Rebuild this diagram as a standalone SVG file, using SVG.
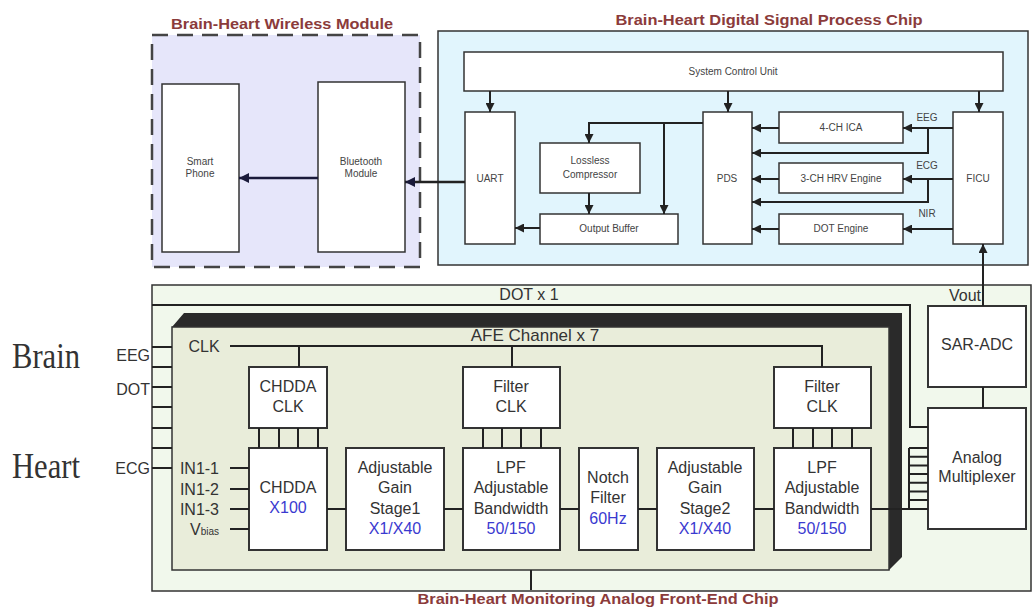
<svg xmlns="http://www.w3.org/2000/svg" width="1035" height="609" viewBox="0 0 1035 609">
<defs>
<style>
.box{fill:#fff;stroke:#333;stroke-width:1.5}
.abox{fill:#fff;stroke:#333;stroke-width:2}
.t{font-family:"Liberation Sans",Arial,sans-serif;fill:#444;font-size:10px;text-anchor:middle}
.at{font-family:"Liberation Sans",Arial,sans-serif;fill:#333;font-size:16px;text-anchor:middle}
.blue{fill:#3a3ad0}
.title{font-family:"Liberation Sans",Arial,sans-serif;font-weight:bold;fill:#8b3b3b;font-size:15px;text-anchor:middle}
.ln{stroke:#222;stroke-width:2;fill:none}
.arr{stroke:#222;stroke-width:2;fill:none;marker-end:url(#ah)}
.serif{font-family:"Liberation Serif","Times New Roman",serif;fill:#333;font-size:36px}
</style>
<marker id="ah" viewBox="0 0 10 10" refX="10" refY="5" markerWidth="9" markerHeight="9" markerUnits="userSpaceOnUse" orient="auto">
<path d="M0,0 L10,5 L0,10 z" fill="#222"/>
</marker>
<marker id="ahn" viewBox="0 0 10 10" refX="10" refY="5" markerWidth="10" markerHeight="10" markerUnits="userSpaceOnUse" orient="auto">
<path d="M0,0 L10,5 L0,10 z" fill="#1a1a3a"/>
</marker>
</defs>

<!-- Wireless module -->
<g id="wireless-module">
<rect x="152" y="35" width="268" height="232" fill="#e6e6fa" stroke="#444" stroke-width="2.5" stroke-dasharray="16,9"/>
<text class="title" x="282" y="29" textLength="222" lengthAdjust="spacingAndGlyphs">Brain-Heart Wireless Module</text>
</g>
<g id="smart-phone">
<rect class="box" x="162" y="84" width="77" height="168"/>
<text class="t" x="200" y="165">Smart</text>
<text class="t" x="200" y="177">Phone</text>
</g>
<g id="bluetooth-module">
<rect class="box" x="318" y="82" width="87" height="170"/>
<text class="t" x="361" y="165">Bluetooth</text>
<text class="t" x="361" y="177">Module</text>
</g>

<!-- DSP chip -->
<g id="dsp-chip">
<rect x="438" y="31" width="590" height="234" fill="#e1f5fd" stroke="#333" stroke-width="1.5"/>
<text class="title" x="769" y="25" textLength="307" lengthAdjust="spacingAndGlyphs">Brain-Heart Digital Signal Process Chip</text>
</g>
<g id="system-control-unit">
<rect class="box" x="464" y="52" width="539" height="39"/>
<text class="t" x="733" y="75">System Control Unit</text>
</g>
<g id="uart">
<rect class="box" x="465" y="112" width="50" height="132"/>
<text class="t" x="490" y="182">UART</text>
</g>
<g id="lossless-compressor">
<rect class="box" x="540" y="143" width="100" height="50"/>
<text class="t" x="590" y="164">Lossless</text>
<text class="t" x="590" y="178">Compressor</text>
</g>
<g id="output-buffer">
<rect class="box" x="540" y="214" width="138" height="30"/>
<text class="t" x="609" y="232">Output Buffer</text>
</g>
<g id="pds">
<rect class="box" x="703" y="112" width="49" height="132"/>
<text class="t" x="727" y="182">PDS</text>
</g>
<g id="ica">
<rect class="box" x="779" y="112" width="124" height="31"/>
<text class="t" x="841" y="131">4-CH ICA</text>
</g>
<g id="hrv-engine">
<rect class="box" x="779" y="163" width="124" height="30"/>
<text class="t" x="841" y="182">3-CH HRV Engine</text>
</g>
<g id="dot-engine">
<rect class="box" x="779" y="214" width="124" height="30"/>
<text class="t" x="841" y="232">DOT Engine</text>
</g>
<g id="ficu">
<rect class="box" x="953" y="112" width="50" height="132"/>
<text class="t" x="978" y="182">FICU</text>
</g>
<g id="dsp-labels">
<text class="t" x="927" y="121">EEG</text>
<text class="t" x="927" y="169">ECG</text>
<text class="t" x="927" y="217">NIR</text>
</g>

<!-- AFE chip -->
<g id="afe-chip">
<rect x="152" y="285" width="879" height="306" fill="#f1f8ec" stroke="#333" stroke-width="1.5"/>
<text class="at" x="529" y="300">DOT x 1</text>
<text class="title" x="598" y="604" textLength="361" lengthAdjust="spacingAndGlyphs">Brain-Heart Monitoring Analog Front-End Chip</text>
</g>
<g id="afe-channel">
<polygon points="172,327 184,313 902,313 902,557 889,570 889,327" fill="#2a2a2a"/>
<rect x="172" y="327" width="717" height="243" fill="#e9edda" stroke="#333" stroke-width="1.5"/>
<text class="at" x="535" y="341" style="font-size:17px">AFE Channel x 7</text>
<text class="at" x="204" y="352" style="text-anchor:middle">CLK</text>
<text class="at" x="219" y="474" style="text-anchor:end">IN1-1</text>
<text class="at" x="219" y="495" style="text-anchor:end">IN1-2</text>
<text class="at" x="219" y="515" style="text-anchor:end">IN1-3</text>
<text class="at" x="219" y="535" style="text-anchor:end">V<tspan style="font-size:10px">bias</tspan></text>
</g>
<g id="chdda-clk">
<rect class="abox" x="249" y="367" width="78" height="61"/>
<text class="at" x="288" y="392">CHDDA</text>
<text class="at" x="288" y="412">CLK</text>
</g>
<g id="filter-clk-1">
<rect class="abox" x="463" y="367" width="97" height="61"/>
<text class="at" x="511" y="392">Filter</text>
<text class="at" x="511" y="412">CLK</text>
</g>
<g id="filter-clk-2">
<rect class="abox" x="774" y="367" width="97" height="61"/>
<text class="at" x="822" y="392">Filter</text>
<text class="at" x="822" y="412">CLK</text>
</g>
<g id="chdda">
<rect class="abox" x="249" y="448" width="78" height="102"/>
<text class="at" x="288" y="493">CHDDA</text>
<text class="at blue" x="288" y="513">X100</text>
</g>
<g id="gain-stage-1">
<rect class="abox" x="346" y="448" width="98" height="102"/>
<text class="at" x="395" y="473">Adjustable</text>
<text class="at" x="395" y="493">Gain</text>
<text class="at" x="395" y="514">Stage1</text>
<text class="at blue" x="395" y="534">X1/X40</text>
</g>
<g id="lpf-1">
<rect class="abox" x="463" y="448" width="97" height="102"/>
<text class="at" x="511" y="473">LPF</text>
<text class="at" x="511" y="493">Adjustable</text>
<text class="at" x="511" y="514">Bandwidth</text>
<text class="at blue" x="511" y="534">50/150</text>
</g>
<g id="notch-filter">
<rect class="abox" x="579" y="448" width="59" height="102"/>
<text class="at" x="608" y="483">Notch</text>
<text class="at" x="608" y="503">Filter</text>
<text class="at blue" x="608" y="524">60Hz</text>
</g>
<g id="gain-stage-2">
<rect class="abox" x="657" y="448" width="97" height="102"/>
<text class="at" x="705" y="473">Adjustable</text>
<text class="at" x="705" y="493">Gain</text>
<text class="at" x="705" y="514">Stage2</text>
<text class="at blue" x="705" y="534">X1/X40</text>
</g>
<g id="lpf-2">
<rect class="abox" x="774" y="448" width="97" height="102"/>
<text class="at" x="822" y="473">LPF</text>
<text class="at" x="822" y="493">Adjustable</text>
<text class="at" x="822" y="514">Bandwidth</text>
<text class="at blue" x="822" y="534">50/150</text>
</g>
<g id="sar-adc">
<rect class="abox" x="928" y="306" width="98" height="81"/>
<text class="at" x="977" y="350">SAR-ADC</text>
</g>
<g id="analog-multiplexer">
<rect class="abox" x="928" y="408" width="98" height="121"/>
<text class="at" x="977" y="463">Analog</text>
<text class="at" x="977" y="482">Multiplexer</text>
</g>
<g id="side-labels">
<text class="serif" x="12" y="368" textLength="68" lengthAdjust="spacingAndGlyphs">Brain</text>
<text class="serif" x="12" y="478" textLength="68" lengthAdjust="spacingAndGlyphs">Heart</text>
<text class="at" x="150" y="361" style="text-anchor:end">EEG</text>
<text class="at" x="150" y="395" style="text-anchor:end">DOT</text>
<text class="at" x="150" y="474" style="text-anchor:end">ECG</text>
<text class="at" x="981" y="301" style="text-anchor:end">Vout</text>
</g>

<!-- Connectors -->
<g id="connectors">
<path d="M465,182 H405" stroke="#222" stroke-width="2.5" fill="none" marker-end="url(#ahn)"/>
<path d="M318,178 H239" stroke="#1a1a3a" stroke-width="2.5" fill="none" marker-end="url(#ahn)"/>
<path class="arr" d="M490,91 V112"/>
<path class="arr" d="M728,91 V112"/>
<path class="arr" d="M979,91 V112"/>
<path class="arr" d="M703,123 H589 V143"/>
<path class="arr" d="M664,123 V214"/>
<path class="arr" d="M589,193 V214"/>
<path class="arr" d="M540,228 H515"/>
<path class="arr" d="M953,128 H903"/>
<path class="arr" d="M928,128 V153 H752"/>
<path class="arr" d="M779,128 H752"/>
<path class="arr" d="M953,179 H903"/>
<path class="arr" d="M928,179 V202 H752"/>
<path class="arr" d="M779,179 H752"/>
<path class="arr" d="M953,229 H903"/>
<path class="arr" d="M779,229 H752"/>
<path class="arr" d="M983,306 V244"/>
<path class="ln" d="M983,387 V408"/>
<path class="ln" d="M230,346 H822 V367 M299,346 V367 M512,346 V367"/>
<path class="ln" d="M259,428 V448 M279,428 V448 M298,428 V448 M318,428 V448 M483,428 V448 M502,428 V448 M521,428 V448 M541,428 V448 M793,428 V448 M813,428 V448 M832,428 V448 M852,428 V448"/>
<path class="ln" d="M230,468 H249 M230,489 H249 M230,509 H249 M230,529 H249"/>
<path class="ln" d="M327,509 H346 M444,509 H463 M560,509 H579 M638,509 H657 M754,509 H774 M871,509 H928"/>
<path class="ln" d="M152,347 H172 M152,367 H172 M152,387 H172 M152,407 H172 M152,428 H172 M152,448 H172 M152,468 H172"/>
<path class="ln" d="M152,305 H910 V427 H928"/>
<path class="ln" d="M909,448 V509 M909,448 H928 M909,456.7 H928 M909,465.4 H928 M909,474 H928 M909,482.7 H928 M909,491.4 H928 M909,500 H928"/>
<path class="ln" d="M531,570 V590"/>
</g>
</svg>
